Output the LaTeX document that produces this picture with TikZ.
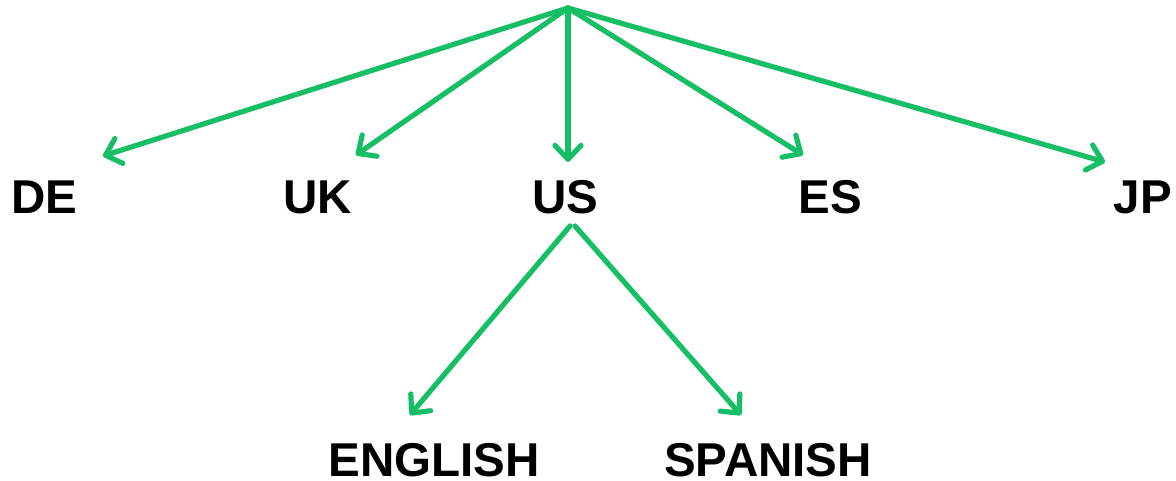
\documentclass[tikz,border=0pt]{standalone}
\usepackage{fontspec}
\setmainfont{Liberation Sans}
\usetikzlibrary{arrows.meta}
\definecolor{arrowgreen}{RGB}{22,190,102}
\begin{document}
\begin{tikzpicture}[x=1pt,y=-1pt,
  lbl/.style={font=\fontsize{47.5}{47.5}\selectfont\bfseries, inner sep=0pt, text height=34pt, text depth=0pt},
  link/.style={draw=arrowgreen, line width=5.2pt, line cap=round, line join=round,
    -{Straight Barb[length=14pt,width=26pt,line cap=round,line join=round]}}]
\useasboundingbox (0,0) rectangle (1176,481);
\coordinate (top) at (568,8);
\node[lbl] (de) at (44.5,197) {DE};
\node[lbl] (uk) at (318,197) {UK};
\node[lbl] (us) at (565,197) {US};
\node[lbl] (es) at (830,197) {ES};
\node[lbl] (jp) at (1143,197) {JP};
\node[lbl] (en) at (434,459) {ENGLISH};
\node[lbl] (sp) at (768,459) {SPANISH};
\coordinate (tde) at (103,156);
\coordinate (tuk) at (356,155);
\coordinate (tus) at (568,162);
\coordinate (tes) at (803,155);
\coordinate (tjp) at (1105,162);
\coordinate (sen) at (570,226);
\coordinate (ssp) at (575,226);
\coordinate (ten) at (410,415);
\coordinate (tsp) at (741,415);
\draw[link] (top) -- (tde);
\draw[link] (top) -- (tuk);
\draw[link] (top) -- (tus);
\draw[link] (top) -- (tes);
\draw[link] (top) -- (tjp);
\draw[link] (sen) -- (ten);
\draw[link] (ssp) -- (tsp);
\end{tikzpicture}
\end{document}
